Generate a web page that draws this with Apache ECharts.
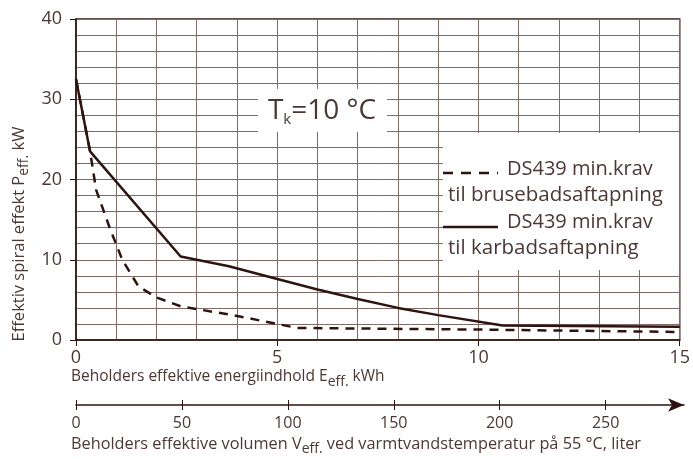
<!DOCTYPE html>
<html>
<head>
<meta charset="utf-8">
<script src="https://cdn.jsdelivr.net/npm/echarts@6/dist/echarts.min.js"></script>
<style>
  html, body { margin: 0; padding: 0; background: #fff; }
  #main { width: 693px; height: 459px; }
</style>
</head>
<body>
<div id="main"></div>
<script>
// DS439 min. krav, brusebad (stiplet)
const bruseE = [0, 0.35, 0.5, 0.85, 1.15, 1.55, 2, 2.6, 4, 5, 5.5, 10, 15];
const bruseP = [32.5, 23.5, 18.7, 13.8, 10, 6.7, 5.3, 4.2, 3.0, 2.0, 1.5, 1.3, 1.0];
// DS439 min. krav, karbad (fuld linje)
const karE = [0, 0.35, 2.6, 3.8, 5, 6, 7, 8, 9, 10.6, 15];
const karP = [32.5, 23.5, 10.4, 9.2, 7.6, 6.3, 5.1, 4.0, 3.1, 1.8, 1.65];

const volLabels = [0, 50, 100, 150, 200, 250];

const dark = '#2e1410';
const textCol = '#4a3834';
const gridCol = '#806c67';
const font = 'Open Sans';

function pairs(xs, ys) {
  return xs.map((x, i) => [x, ys[i]]);
}

const chart = echarts.init(document.getElementById('main'), null, { renderer: 'canvas' });

const gridLine = { show: true, lineStyle: { color: gridCol, width: 1 } };

const option = {
  backgroundColor: '#fff',
  animation: false,
  textStyle: { fontFamily: font, color: textCol },
  grid: [
    { left: 76, right: 9, top: 19, bottom: 119, show: true, borderColor: dark, borderWidth: 1.5 },
    { left: 76, right: 9, top: 405, height: 0 }
  ],
  xAxis: [
    {
      type: 'value', gridIndex: 0, min: 0, max: 15, interval: 5,
      axisLine: { lineStyle: { color: dark, width: 1.5 } },
      axisTick: { length: 6, lineStyle: { color: dark } },
      axisLabel: { fontSize: 18, color: textCol, fontFamily: font, margin: 9 },
      splitLine: gridLine,
      minorTick: { show: false, splitNumber: 5 },
      minorSplitLine: gridLine
    },
    {
      type: 'value', gridIndex: 1, min: 0, max: 287, position: 'bottom',
      axisLine: { symbol: ['none', 'arrow'], symbolSize: [10, 16], lineStyle: { color: dark, width: 1.5 } },
      axisTick: { customValues: volLabels, length: 5, lineStyle: { color: dark } },
      axisLabel: { customValues: volLabels, fontSize: 16, color: textCol, fontFamily: font, margin: 10 },
      splitLine: { show: false }
    },
    {
      type: 'value', gridIndex: 1, min: 0, max: 287, position: 'top',
      axisLine: { show: false },
      axisTick: { customValues: volLabels, length: 5, lineStyle: { color: dark } },
      axisLabel: { show: false },
      splitLine: { show: false }
    }
  ],
  yAxis: [
    {
      type: 'value', gridIndex: 0, min: 0, max: 40, interval: 10,
      axisLine: { show: true, lineStyle: { color: dark, width: 1.5 } },
      axisTick: { show: true, length: 6, lineStyle: { color: dark } },
      axisLabel: { fontSize: 18, color: textCol, fontFamily: font, margin: 14 },
      splitLine: gridLine,
      minorTick: { show: false, splitNumber: 5 },
      minorSplitLine: gridLine
    },
    { type: 'value', gridIndex: 1, show: false }
  ],
  graphic: [
    // Tk-boks
    { type: 'rect', z: 5, shape: { x: 258, y: 89, width: 129, height: 43 }, style: { fill: '#fff' } },
    {
      type: 'text', z: 6, x: 322, y: 111,
      style: {
        text: '{a|T}{s|k}{a|=10 °C}',
        align: 'center', verticalAlign: 'middle',
        rich: {
          a: { fontSize: 28, fontFamily: font, fill: textCol },
          s: { fontSize: 15, fontFamily: font, fill: textCol, padding: [18, 0, 0, 0] }
        }
      }
    },
    // Signaturforklaring
    { type: 'rect', z: 5, shape: { x: 443, y: 133, width: 236, height: 137 }, style: { fill: '#fff' } },
    { type: 'line', z: 6, shape: { x1: 443, y1: 173, x2: 498, y2: 173 }, style: { stroke: dark, lineWidth: 2.5, lineDash: [10, 8] } },
    { type: 'text', z: 6, x: 507, y: 169, style: { text: 'DS439 min.krav', fontSize: 20, fontFamily: font, fill: textCol, verticalAlign: 'middle' } },
    { type: 'text', z: 6, x: 448, y: 195, style: { text: 'til brusebadsaftapning', fontSize: 20.5, fontFamily: font, fill: textCol, verticalAlign: 'middle' } },
    { type: 'line', z: 6, shape: { x1: 443, y1: 227, x2: 498, y2: 227 }, style: { stroke: dark, lineWidth: 2.5 } },
    { type: 'text', z: 6, x: 507, y: 222, style: { text: 'DS439 min.krav', fontSize: 20, fontFamily: font, fill: textCol, verticalAlign: 'middle' } },
    { type: 'text', z: 6, x: 448, y: 248, style: { text: 'til karbadsaftapning', fontSize: 20.5, fontFamily: font, fill: textCol, verticalAlign: 'middle' } },
    // aksetitler
    {
      type: 'text', x: 71, y: 377,
      style: {
        text: '{a|Beholders effektive energiindhold E}{s|eff.}{a| kWh}',
        verticalAlign: 'middle',
        rich: {
          a: { fontSize: 15.5, fontFamily: font, fill: textCol },
          s: { fontSize: 14, fontFamily: font, fill: textCol, padding: [11, 0, 0, 0] }
        }
      }
    },
    {
      type: 'text', x: 71, y: 444,
      style: {
        text: '{a|Beholders effektive volumen V}{s|eff.}{a| ved varmtvandstemperatur på 55 °C, liter}',
        verticalAlign: 'middle',
        rich: {
          a: { fontSize: 16.3, fontFamily: font, fill: textCol },
          s: { fontSize: 14, fontFamily: font, fill: textCol, padding: [11, 0, 0, 0] }
        }
      }
    },
    {
      type: 'text', x: 19, y: 234, rotation: Math.PI / 2,
      style: {
        text: '{a|Effektiv spiral effekt P}{s|eff.}{a| kW}',
        align: 'center', verticalAlign: 'middle',
        rich: {
          a: { fontSize: 16.5, fontFamily: font, fill: textCol },
          s: { fontSize: 14, fontFamily: font, fill: textCol, padding: [11, 0, 0, 0] }
        }
      }
    }
  ],
  series: [
    {
      name: 'DS439 min.krav til brusebadsaftapning',
      type: 'line', xAxisIndex: 0, yAxisIndex: 0, symbol: 'none', z: 3,
      data: pairs(bruseE, bruseP),
      lineStyle: { color: dark, width: 2.5, type: [9, 7] }
    },
    {
      name: 'DS439 min.krav til karbadsaftapning',
      type: 'line', xAxisIndex: 0, yAxisIndex: 0, symbol: 'none', z: 3,
      data: pairs(karE, karP),
      lineStyle: { color: dark, width: 2.5 }
    }
  ]
};

chart.setOption(option);
</script>
</body>
</html>
